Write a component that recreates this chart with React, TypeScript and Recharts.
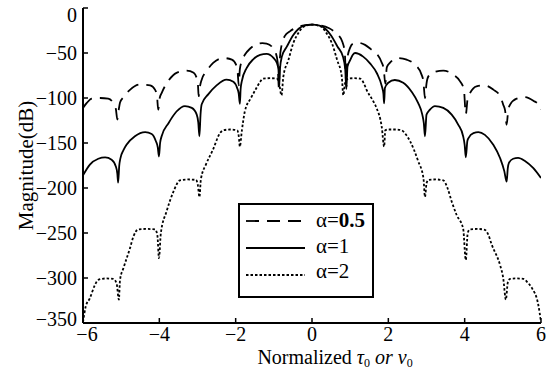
import React from "react";
import { LineChart, Line, XAxis, YAxis, Legend } from "recharts";

const FONT = "'Liberation Serif', 'DejaVu Serif', 'Times New Roman', Times, serif";

// axis ticks
const xTicks = [-6, -4, -2, 0, 2, 4, 6];
const yTicks = [-350, -300, -250, -200, -150, -100, -50, 0];
const topTicks = [-4.82, -3.67, -2.49, -1.31, -0.13, 1.07, 2.25, 3.41, 4.59, 5.77];

// alpha = 0.5 (dashed), [normalized tau, dB]
const alphaHalf: [number, number][] = [
  [-6, -111], [-5.9, -105.5], [-5.77, -100.7], [-5.55, -100], [-5.34, -100.7], [-5.21, -105.5],
  [-5.14, -112], [-5.1, -124], [-5.06, -112], [-5.03, -105], [-4.94, -99], [-4.77, -91],
  [-4.51, -85], [-4.24, -86], [-4.11, -91], [-4.06, -98], [-4.03, -113], [-3.99, -100],
  [-3.94, -94.5], [-3.76, -80.7], [-3.55, -72], [-3.28, -69.6], [-3.1, -72], [-3.02, -78],
  [-2.99, -84], [-2.97, -98], [-2.93, -86], [-2.89, -79.6], [-2.76, -70], [-2.59, -61],
  [-2.32, -55.6], [-2.1, -57.4], [-1.99, -63], [-1.95, -70], [-1.92, -86], [-1.89, -68],
  [-1.84, -59], [-1.76, -52], [-1.62, -45], [-1.49, -41], [-1.3, -39], [-1.19, -39.5],
  [-1.05, -43], [-0.95, -50], [-0.9, -60], [-0.87, -88], [-0.84, -55], [-0.8, -42],
  [-0.71, -31], [-0.58, -26], [-0.45, -22.5], [-0.25, -19.5], [0, -18.5], [0.25, -19.5],
  [0.45, -22.5], [0.58, -26], [0.69, -30], [0.8, -38], [0.86, -50], [0.9, -88],
  [0.93, -55], [1.0, -44], [1.08, -39.5], [1.2, -38.5], [1.39, -41], [1.55, -46],
  [1.7, -51], [1.82, -60], [1.88, -68], [1.92, -84], [1.96, -66], [2.04, -61],
  [2.26, -55.6], [2.48, -57.4], [2.7, -63], [2.87, -74], [2.92, -82], [2.96, -100],
  [3.0, -84], [3.05, -76], [3.22, -71], [3.44, -69.6], [3.7, -74], [3.88, -81.5],
  [3.98, -90.7], [4.03, -118], [4.08, -100], [4.14, -94.5], [4.31, -87], [4.53, -86],
  [4.75, -90.7], [4.93, -98], [5.01, -107.4], [5.06, -114], [5.1, -129.6], [5.14, -114],
  [5.19, -107.4], [5.36, -100.7], [5.58, -99], [5.8, -103], [5.97, -109], [6.0, -113],
];

// alpha = 1 (solid)
const alphaOne: [number, number][] = [
  [-6, -186], [-5.82, -174], [-5.6, -167.5], [-5.42, -166], [-5.25, -168.5], [-5.14, -176],
  [-5.1, -184], [-5.08, -194], [-5.05, -175], [-5.02, -167], [-4.94, -158], [-4.86, -152],
  [-4.64, -142.5], [-4.37, -138], [-4.2, -140], [-4.09, -148], [-4.04, -155], [-4.01, -165],
  [-3.98, -150], [-3.94, -142.5], [-3.76, -128], [-3.55, -115], [-3.33, -109], [-3.15, -111],
  [-3.02, -118.5], [-2.98, -127], [-2.95, -142.5], [-2.92, -118], [-2.89, -107], [-2.72, -96],
  [-2.5, -86], [-2.24, -79.5], [-2.06, -82], [-1.96, -89], [-1.92, -95], [-1.89, -106.5],
  [-1.87, -90], [-1.84, -81.5], [-1.71, -66.5], [-1.54, -57], [-1.36, -52], [-1.19, -51],
  [-1.01, -55.5], [-0.92, -61], [-0.88, -68], [-0.86, -87], [-0.84, -68], [-0.79, -54],
  [-0.66, -43], [-0.49, -30], [-0.35, -23], [-0.2, -19.5], [0, -18.5], [0.2, -19.5],
  [0.35, -23], [0.49, -30], [0.67, -43], [0.81, -54], [0.87, -68], [0.9, -90],
  [0.93, -65], [1.0, -58], [1.07, -52], [1.13, -50], [1.34, -54], [1.52, -61.5],
  [1.7, -72.5], [1.83, -87], [1.87, -95], [1.89, -106], [1.91, -89], [2.0, -83],
  [2.17, -80], [2.39, -83], [2.61, -93], [2.78, -105.5], [2.89, -118.5], [2.93, -128],
  [2.96, -142.5], [3.0, -118.5], [3.09, -113], [3.22, -109], [3.44, -111], [3.66, -118.5],
  [3.83, -129.5], [3.96, -142.5], [4.0, -152], [4.03, -166], [4.07, -148], [4.1, -144.5],
  [4.23, -139], [4.36, -138], [4.53, -141], [4.75, -152], [4.93, -167], [5.04, -181.5],
  [5.1, -193], [5.13, -178], [5.16, -172], [5.27, -167.5], [5.4, -166.5], [5.58, -170],
  [5.8, -178], [6.0, -189],
];

// alpha = 2 (dotted)
const alphaTwo: [number, number][] = [
  [-6, -349], [-5.93, -332], [-5.82, -322.5], [-5.69, -308], [-5.6, -302], [-5.4, -300.5],
  [-5.21, -301], [-5.12, -306], [-5.06, -324], [-5.03, -302], [-4.94, -289], [-4.77, -267],
  [-4.68, -254], [-4.55, -246], [-4.33, -245.5], [-4.11, -246], [-4.05, -253], [-4.01, -278],
  [-3.96, -250], [-3.81, -226], [-3.63, -204], [-3.46, -191.5], [-3.25, -190.5], [-3.04, -191],
  [-2.99, -197], [-2.95, -210], [-2.91, -190], [-2.78, -174], [-2.6, -158], [-2.41, -139],
  [-2.33, -136], [-2.15, -135], [-1.96, -136], [-1.92, -142], [-1.89, -154], [-1.84, -137],
  [-1.76, -115], [-1.6, -100], [-1.47, -90], [-1.36, -82], [-1.28, -78.5], [-1.1, -78],
  [-0.92, -78.5], [-0.86, -84], [-0.8, -97], [-0.75, -76], [-0.62, -58], [-0.49, -39],
  [-0.36, -28], [-0.23, -21], [0, -18.5], [0.25, -21], [0.38, -28], [0.52, -39],
  [0.66, -58], [0.78, -76], [0.82, -97], [0.86, -85], [0.9, -80], [0.96, -78.5],
  [1.1, -78], [1.26, -78.5], [1.35, -83], [1.43, -91], [1.61, -104], [1.69, -111],
  [1.83, -133], [1.89, -154], [1.92, -136], [2.0, -135], [2.2, -135], [2.35, -136],
  [2.45, -140], [2.57, -148], [2.78, -170], [2.92, -189], [2.96, -210], [3.0, -195],
  [3.05, -191], [3.25, -190.5], [3.44, -191.5], [3.55, -200], [3.66, -215], [3.79, -230],
  [3.96, -245], [4.03, -280], [4.08, -250], [4.14, -246], [4.35, -245.5], [4.53, -246.5],
  [4.62, -252], [4.71, -263], [4.93, -286], [5.01, -300], [5.08, -324], [5.13, -305],
  [5.19, -301], [5.35, -300.5], [5.54, -301], [5.65, -305], [5.76, -311], [5.93, -330],
  [6.0, -349],
];

const toPts = (arr: [number, number][]) => arr.map(([x, y]) => ({ x, y }));

const series = [
  { key: "a05", label: "0.5", data: toPts(alphaHalf), dash: "13 8" },
  { key: "a1", label: "1", data: toPts(alphaOne), dash: undefined },
  { key: "a2", label: "2", data: toPts(alphaTwo), dash: "2.5 2" },
];

const fmt = (v: number) => (v < 0 ? `\u2212${Math.abs(v)}` : `${v}`);
const blank = () => "";

// the corner labels sit a little apart in the original, like matlab does
const YTick = (props: any) => {
  const { x, y, payload } = props;
  const shift = payload.value === 0 ? 6 : payload.value === -350 ? -4 : 0;
  return (
    <text x={x} y={y + shift} dy="0.355em" textAnchor="end" fontFamily={FONT} fontSize={20} fill="#000">
      {fmt(payload.value)}
    </text>
  );
};

const XTick = (props: any) => {
  const { x, y, payload } = props;
  const shift = payload.value === -6 ? 4 : 0;
  return (
    <text x={x + shift} y={y} dy="0.71em" textAnchor="middle" fontFamily={FONT} fontSize={20} fill="#000">
      {fmt(payload.value)}
    </text>
  );
};

const XLabel = (props: any) => {
  const vb = props.viewBox || { x: 83, y: 323, width: 458, height: 49 };
  return (
    <text
      x={vb.x + vb.width / 2 + 23}
      y={vb.y + vb.height - 8}
      textAnchor="middle"
      fontFamily={FONT}
      fontSize={20}
      fill="#000"
    >
      Normalized <tspan fontStyle="italic">τ</tspan>
      <tspan fontSize={12} dy={3}>0</tspan>
      <tspan dy={-3} fontStyle="italic"> or v</tspan>
      <tspan fontSize={12} dy={3}>0</tspan>
    </text>
  );
};

const YLabel = (props: any) => {
  const vb = props.viewBox || { x: 8, y: 8, width: 75, height: 315 };
  const cx = vb.x + 25;
  const cy = vb.y + vb.height / 2;
  return (
    <text
      x={cx}
      y={cy}
      transform={`rotate(-90, ${cx}, ${cy})`}
      textAnchor="middle"
      fontFamily={FONT}
      fontSize={21}
      fill="#000"
    >
      Magnitude(dB)
    </text>
  );
};

const renderLegend = () => (
  <svg width={136} height={95} style={{ display: "block" }}>
    <rect x={1} y={1} width={134} height={93} fill="#fff" stroke="#000" strokeWidth={2} />
    {series.map((s, i) => (
      <g key={s.key}>
        <line
          x1={8}
          x2={67}
          y1={18 + i * 27}
          y2={18 + i * 27}
          stroke="#000"
          strokeWidth={1.8}
          strokeDasharray={s.dash}
        />
        <text x={78} y={24 + i * 25.5} fontFamily={FONT} fontSize={21} fill="#000">
          α=<tspan fontWeight={i === 0 ? "bold" : "normal"}>{s.label}</tspan>
        </text>
      </g>
    ))}
  </svg>
);

const axisStyle = { stroke: "#000", strokeWidth: 2 };
const tickLineStyle = { stroke: "#000", strokeWidth: 1.5 };

export default function App() {
  return (
    <div
      style={{
        position: "absolute",
        left: 0,
        top: 0,
        width: 553,
        height: 372,
        background: "#fff",
        fontFamily: FONT,
      }}
    >
      <LineChart width={553} height={372} margin={{ top: 8, right: 12, bottom: 0, left: 8 }}>
        <XAxis
          xAxisId="bottom"
          type="number"
          dataKey="x"
          domain={[-6, 6]}
          ticks={xTicks}
          allowDataOverflow
          height={49}
          tickSize={-5}
          tickMargin={9}
          tick={<XTick />}
          axisLine={axisStyle}
          tickLine={tickLineStyle}
          label={<XLabel />}
        />
        <XAxis
          xAxisId="top"
          orientation="top"
          type="number"
          dataKey="x"
          domain={[-6, 6]}
          ticks={topTicks}
          allowDataOverflow
          height={0}
          tickSize={-5}
          tickFormatter={blank}
          axisLine={axisStyle}
          tickLine={tickLineStyle}
        />
        <YAxis
          yAxisId="left"
          type="number"
          domain={[-350, 0]}
          ticks={yTicks}
          allowDataOverflow
          width={75}
          tickSize={-5}
          tickMargin={11}
          tick={<YTick />}
          axisLine={axisStyle}
          tickLine={tickLineStyle}
          label={<YLabel />}
        />
        <YAxis
          yAxisId="right"
          orientation="right"
          type="number"
          domain={[-350, 0]}
          ticks={yTicks}
          allowDataOverflow
          width={0}
          tickSize={-5}
          tickFormatter={blank}
          axisLine={axisStyle}
          tickLine={tickLineStyle}
        />
        {series.map((s) => (
          <Line
            key={s.key}
            xAxisId="bottom"
            yAxisId="left"
            data={s.data}
            dataKey="y"
            type="monotone"
            stroke="#000"
            strokeWidth={1.8}
            strokeDasharray={s.dash}
            dot={false}
            activeDot={false}
            isAnimationActive={false}
          />
        ))}
        <Legend
          content={renderLegend}
          layout="vertical"
          align="center"
          verticalAlign="middle"
          wrapperStyle={{ left: 238, top: 203, width: 136, height: 95 }}
        />
      </LineChart>
    </div>
  );
}
